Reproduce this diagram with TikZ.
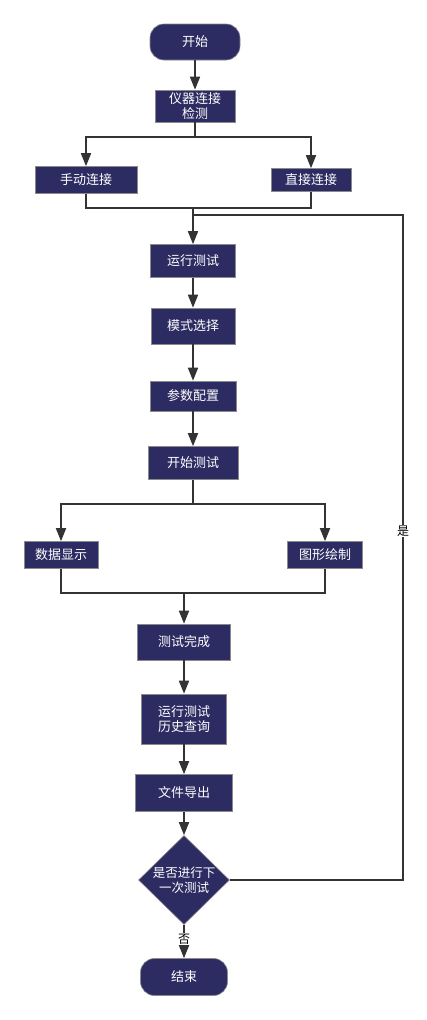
\documentclass[tikz,border=0pt]{standalone}
\usepackage{fontspec}
\newfontfamily\cjk{Noto Sans CJK SC}
\usetikzlibrary{arrows.meta,shapes.geometric,calc}
\definecolor{boxfill}{HTML}{2C2B62}
\definecolor{boxline}{HTML}{8A8A8A}
\definecolor{edge}{HTML}{333333}
\begin{document}
\begin{tikzpicture}[x=1pt,y=-1pt,
  box/.style={draw=boxline,line width=0.6pt,fill=boxfill,text=white,font=\cjk\fontsize{13}{15.5}\selectfont,align=center,inner sep=0pt},
  term/.style={box,rounded corners=14pt},
  conn/.style={draw=edge,line width=1.7pt},
  arr/.style={conn,-{Triangle[length=13pt,width=10pt]}},
  lab/.style={fill=white,text=black,font=\cjk\fontsize{12}{14}\selectfont,inner sep=1pt}]
\useasboundingbox (0,0) rectangle (427,1020);
\node[term,minimum width=90pt,minimum height=36pt] (start) at (195,42) {开始};
\node[box,minimum width=80pt,minimum height=32pt] (detect) at (195,106) {仪器连接\\检测};
\node[box,minimum width=102pt,minimum height=27pt] (manual) at (86,180) {手动连接};
\node[box,minimum width=80pt,minimum height=23pt] (direct) at (311,180) {直接连接};
\node[box,minimum width=85pt,minimum height=33pt] (run) at (193,261) {运行测试};
\node[box,minimum width=84pt,minimum height=36pt] (mode) at (193,326) {模式选择};
\node[box,minimum width=86pt,minimum height=30pt] (param) at (193,396) {参数配置};
\node[box,minimum width=90pt,minimum height=33pt] (begin) at (193,463) {开始测试};
\node[box,minimum width=74pt,minimum height=27pt] (data) at (61,555) {数据显示};
\node[box,minimum width=75pt,minimum height=27pt] (graph) at (325,555) {图形绘制};
\node[box,minimum width=93pt,minimum height=36pt] (done) at (184,642) {测试完成};
\node[box,minimum width=85pt,minimum height=50pt] (hist) at (184,719) {运行测试\\历史查询};
\node[box,minimum width=97pt,minimum height=37pt] (export) at (184,793) {文件导出};
\node[box,diamond,minimum width=91pt,minimum height=69pt,inner sep=0pt,font=\cjk\fontsize{12.5}{15}\selectfont] (dec) at (184,880) {是否进行下\\一次测试};
\node[term,minimum width=87pt,minimum height=37pt] (end) at (184,977) {结束};

\coordinate (s1) at (195,137);
\coordinate (m1) at (193,208);
\coordinate (s2) at (193,504);
\coordinate (m2) at (184,593);
\coordinate (lp) at (403,215);
\coordinate (lj) at (193,215);

\draw[arr] (start) -- (detect);
\draw[conn] (detect.south) -- (s1);
\draw[arr] (s1) -| (manual.north);
\draw[arr] (s1) -| (direct.north);
\draw[conn] (manual.south) |- (m1) -| (direct.south);
\draw[arr] (m1) -- (run.north);
\draw[arr] (run) -- (mode);
\draw[arr] (mode) -- (param);
\draw[arr] (param) -- (begin);
\draw[conn] (begin.south) -- (s2);
\draw[arr] (s2) -| (data.north);
\draw[arr] (s2) -| (graph.north);
\draw[conn] (data.south) |- (m2) -| (graph.south);
\draw[arr] (m2) -- (done.north);
\draw[arr] (done) -- (hist);
\draw[arr] (hist) -- (export);
\draw[arr] (export) -- (dec);
\draw[conn] (dec.east) -| (lp) -- (lj);
\node[lab] (yes) at (403,531) {是};
\draw[arr] (dec.south) -- (end.north) node[lab,pos=0.42] (no) {否};
\end{tikzpicture}
\end{document}
